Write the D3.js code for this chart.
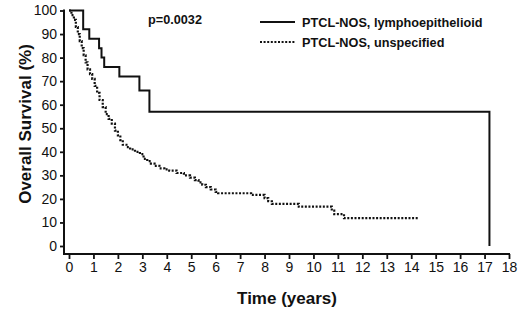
<!DOCTYPE html>
<html>
<head>
<meta charset="utf-8">
<script src="https://cdn.jsdelivr.net/npm/d3@7"></script>
<style>
    body { margin: 0; background: #fff; }
    svg text { font-family: "Liberation Sans", Arial, sans-serif; fill: #111; }
    .axis text { font-size: 14px; }
    .axis line { stroke: #111; stroke-width: 1.8px; }
    .axis path { display: none; }
    .axis-label { font-size: 17px; font-weight: bold; }
    .legend text, .pval { font-size: 12.7px; font-weight: bold; }
</style>
</head>
<body>
<div id="chart"></div>
<script>

// Kaplan-Meier survival, [time in years, survival %]
var lymphoepithelioid = [
    [0, 100], [0.58, 92], [0.83, 88], [1.23, 84], [1.33, 80], [1.44, 76],
    [2.06, 72], [2.88, 66], [3.29, 57], [17.2, 57], [17.2, 0]
];

var unspecified = [
    [0, 100], [0.1, 98], [0.2, 96], [0.28, 93], [0.36, 90], [0.44, 87],
    [0.52, 84], [0.6, 81], [0.68, 78], [0.76, 75], [0.86, 73], [0.95, 71],
    [1.05, 68], [1.15, 65], [1.25, 62], [1.38, 59], [1.5, 56], [1.62, 54],
    [1.75, 52], [1.88, 49], [2.0, 47], [2.1, 45], [2.2, 43], [2.35, 42],
    [2.5, 41], [2.7, 40], [2.9, 39], [3.05, 37], [3.2, 36], [3.35, 35],
    [3.5, 34], [3.7, 33], [3.9, 32.5], [4.1, 32], [4.4, 31], [4.7, 30],
    [4.95, 29], [5.15, 28], [5.3, 27], [5.45, 26], [5.6, 25], [5.8, 24],
    [6.0, 23], [6.1, 22.4], [7.45, 21.7], [8.0, 20.3], [8.15, 19],
    [8.3, 17.9], [9.4, 16.7], [10.75, 15], [10.85, 13.5], [11.25, 11.8],
    [14.3, 11.8]
];

var seriesNames = ["PTCL-NOS, lymphoepithelioid", "PTCL-NOS, unspecified"];
var xTicks = d3.range(0, 19, 1);
var yTicks = d3.range(0, 101, 10);
var pValue = "p=0.0032";

var width = 520, height = 309;

var svg = d3.select("#chart").append("svg")
    .attr("width", width)
    .attr("height", height);

// Scales
var x = d3.scaleLinear().domain([0, 18]).range([69, 509]);
var y = d3.scaleLinear().domain([0, 100]).range([246, 10.5]);

var axisX = 64, axisY = 254;

// Axes
var xAxis = d3.axisBottom(x).tickValues(xTicks).tickSize(5).tickSizeOuter(0).tickPadding(3);
var yAxis = d3.axisLeft(y).tickValues(yTicks).tickSize(4).tickSizeOuter(0).tickPadding(3);

svg.append("g")
    .attr("class", "x-axis axis")
    .attr("transform", "translate(0," + axisY + ")")
    .call(xAxis);

svg.append("g")
    .attr("class", "y-axis axis")
    .attr("transform", "translate(" + axisX + ",0)")
    .call(yAxis);

svg.selectAll(".axis text").attr("fill", "#111");

// axis lines (offset from the data area, as in the original)
svg.append("line")
    .attr("x1", axisX).attr("x2", axisX)
    .attr("y1", y(100) - 1).attr("y2", axisY + 1)
    .attr("stroke", "#111").attr("stroke-width", 2);

svg.append("line")
    .attr("x1", axisX).attr("x2", x(18) + 1)
    .attr("y1", axisY).attr("y2", axisY)
    .attr("stroke", "#111").attr("stroke-width", 2);

// Curves
var line = d3.line()
    .x(function(d) { return x(d[0]); })
    .y(function(d) { return y(d[1]); })
    .curve(d3.curveStepAfter);

svg.append("path")
    .datum(unspecified)
    .attr("d", line)
    .attr("fill", "none")
    .attr("stroke", "#111")
    .attr("stroke-width", 2.2)
    .attr("stroke-dasharray", "2,1.6");

svg.append("path")
    .datum(lymphoepithelioid)
    .attr("d", line)
    .attr("fill", "none")
    .attr("stroke", "#111")
    .attr("stroke-width", 2);

// p value
svg.append("text")
    .attr("class", "pval")
    .attr("x", 148)
    .attr("y", 24)
    .text(pValue);

// Legend
var legend = svg.append("g").attr("class", "legend");

seriesNames.forEach(function(name, i) {
    var ly = 22 + i * 20;
    legend.append("line")
        .attr("x1", 260).attr("x2", 295)
        .attr("y1", ly).attr("y2", ly)
        .attr("stroke", "#111")
        .attr("stroke-width", 2)
        .attr("stroke-dasharray", i === 1 ? "2,1.6" : null);
    legend.append("text")
        .attr("x", 302)
        .attr("y", ly + 4.5)
        .text(name);
});

// Axis labels
svg.append("text")
    .attr("class", "axis-label")
    .attr("x", 287)
    .attr("y", 304)
    .attr("text-anchor", "middle")
    .text("Time (years)");

svg.append("text")
    .attr("class", "axis-label")
    .attr("transform", "translate(31,124) rotate(-90)")
    .attr("text-anchor", "middle")
    .text("Overall Survival (%)");

</script>
</body>
</html>
